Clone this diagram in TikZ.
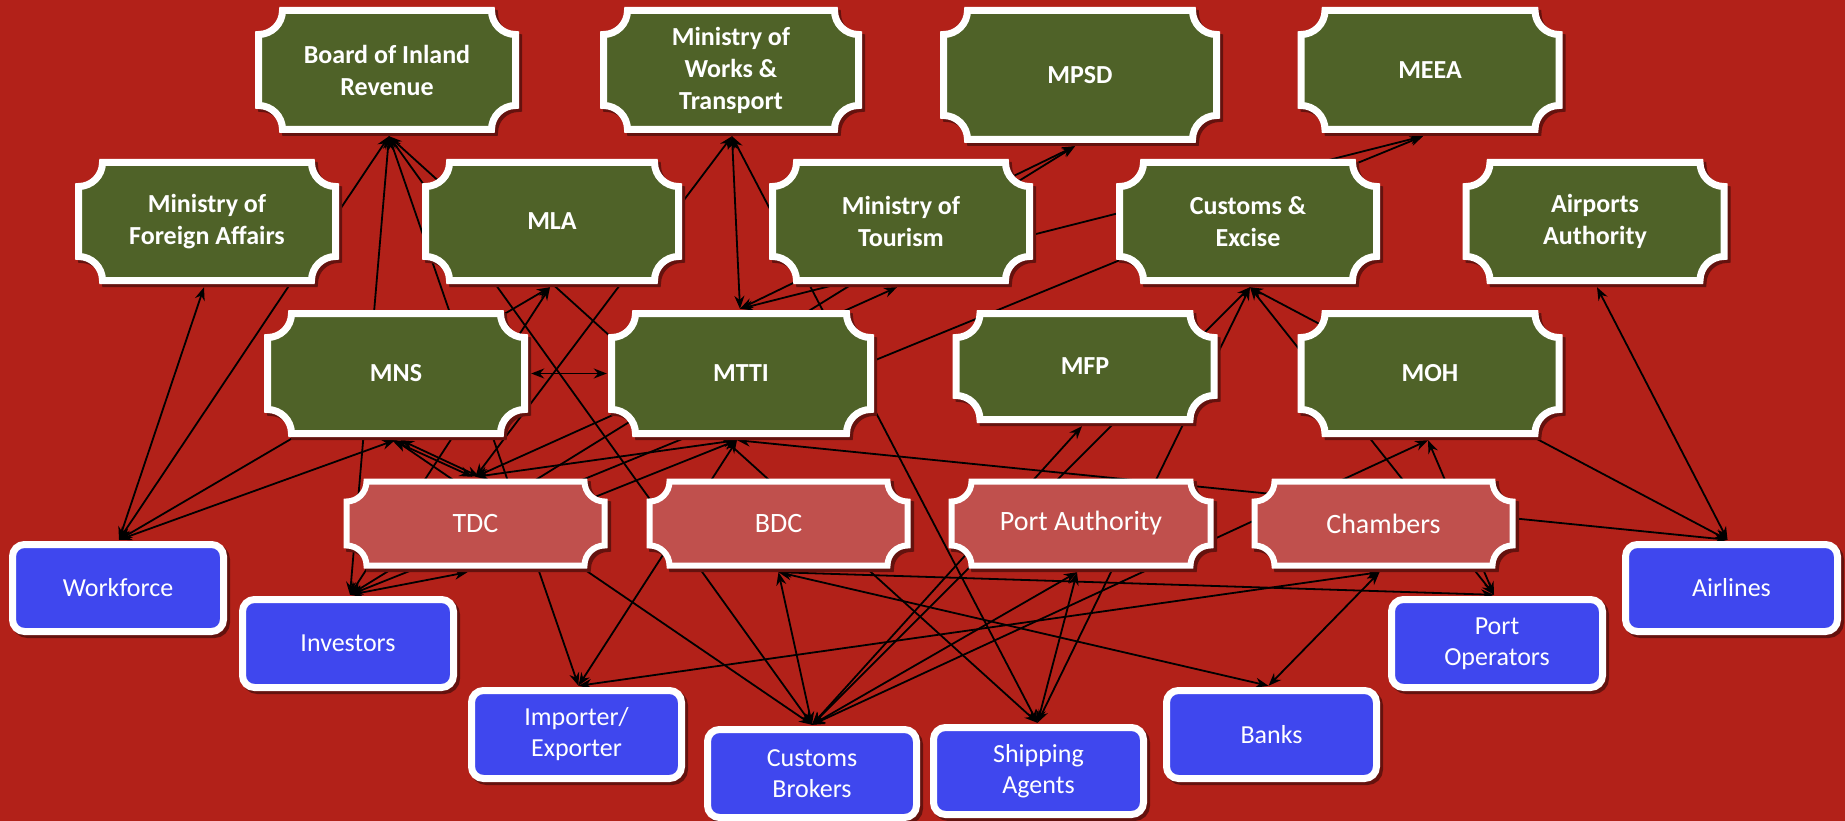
\documentclass[tikz,border=0pt]{standalone}
\usepackage{fontspec}
\setmainfont{Carlito}
\usetikzlibrary{arrows.meta,calc}
\definecolor{bgred}{RGB}{178,33,25}
\definecolor{boxgreen}{RGB}{79,98,40}
\definecolor{boxpink}{RGB}{192,80,77}
\definecolor{boxblue}{RGB}{63,71,238}
\definecolor{shadowc}{RGB}{100,18,14}
\pgfdeclarelayer{bg}
\pgfdeclarelayer{edges}
\pgfsetlayers{bg,edges,main}
\newcommand\plaquepath[5]{%
({#1-#3+#5},{#2-#4}) -- ({#1+#3-#5},{#2-#4})
.. controls ({#1+#3-#5},{#2-#4+0.552*#5}) and ({#1+#3-0.552*#5},{#2-#4+#5}) .. ({#1+#3},{#2-#4+#5})
-- ({#1+#3},{#2+#4-#5})
.. controls ({#1+#3-0.552*#5},{#2+#4-#5}) and ({#1+#3-#5},{#2+#4-0.552*#5}) .. ({#1+#3-#5},{#2+#4})
-- ({#1-#3+#5},{#2+#4})
.. controls ({#1-#3+#5},{#2+#4-0.552*#5}) and ({#1-#3+0.552*#5},{#2+#4-#5}) .. ({#1-#3},{#2+#4-#5})
-- ({#1-#3},{#2-#4+#5})
.. controls ({#1-#3+0.552*#5},{#2-#4+#5}) and ({#1-#3+#5},{#2-#4+0.552*#5}) .. ({#1-#3+#5},{#2-#4})
-- cycle}
\newcommand\plaque[9]{%
  \pgfmathsetmacro\plqa{#4/2-3.5}%
  \pgfmathsetmacro\plqb{#5/2-3.5}%
  \filldraw[plaqueshadow] \plaquepath{#2+3}{#3+3}{\plqa}{\plqb}{#6};
  \filldraw[#7] \plaquepath{#2}{#3}{\plqa}{\plqb}{#6};
  \node[#8, minimum width=#4pt, minimum height=#5pt] (#1) at (#2,#3) {#9};
}
\newcommand\bluebox[6]{%
  \draw[blueshadow] ({#2-#4/2+6.5},{#3-#5/2+6.5}) rectangle ({#2+#4/2-0.5},{#3+#5/2-0.5});
  \draw[blueshape] ({#2-#4/2+3.5},{#3-#5/2+3.5}) rectangle ({#2+#4/2-3.5},{#3+#5/2-3.5});
  \node[bluetext, minimum width=#4pt, minimum height=#5pt] (#1) at (#2,#3) {#6};
}
\tikzset{
  plaqueshadow/.style={fill=shadowc, draw=shadowc, line width=7pt},
  greenshape/.style={fill=boxgreen, draw=white, line width=7pt},
  pinkshape/.style={fill=boxpink, draw=white, line width=6pt},
  blueshadow/.style={fill=shadowc, draw=shadowc, line width=7pt, rounded corners=12pt},
  blueshape/.style={fill=boxblue, draw=white, line width=7pt, rounded corners=12pt},
  boxtext/.style={inner sep=0pt, align=center, text=white},
  greentext/.style={boxtext, font=\bfseries\fontsize{26}{32}\selectfont},
  pinktext/.style={boxtext, font=\fontsize{28}{34}\selectfont},
  bluetext/.style={boxtext, font=\fontsize{26}{31}\selectfont},
  link/.style={draw=black, line width=1.8pt, <->, >={Stealth[length=13pt,width=10pt]}},
}
\begin{document}
\begin{tikzpicture}[x=1pt,y=-1pt]
\useasboundingbox (0,0) rectangle (1845,821);
\begin{pgfonlayer}{bg}
\fill[bgred] (0,0) rectangle (1845,821);
\end{pgfonlayer}
% green plaques
\plaque{bir}{387}{70}{264}{126}{24}{greenshape}{greentext}{Board of Inland\\Revenue}
\plaque{mwt}{731}{70}{262}{126}{24}{greenshape}{greentext}{Ministry of\\Works \&\\Transport}
\plaque{mpsd}{1080}{75}{280}{136}{24}{greenshape}{greentext}{MPSD}
\plaque{meea}{1430}{70}{265}{126}{24}{greenshape}{greentext}{MEEA}
\plaque{mfa}{207}{221.5}{264}{125}{24}{greenshape}{greentext}{Ministry of\\Foreign Affairs}
\plaque{mla}{552}{221.5}{260}{125}{24}{greenshape}{greentext}{MLA}
\plaque{mot}{901}{221.5}{264}{125}{24}{greenshape}{greentext}{Ministry of\\Tourism}
\plaque{ce}{1248}{221.5}{264}{125}{24}{greenshape}{greentext}{Customs \&\\Excise}
\plaque{aa}{1595}{221.5}{265}{125}{24}{greenshape}{greentext}{Airports\\Authority}
\plaque{mns}{396}{373.5}{264}{127}{24}{greenshape}{greentext}{MNS}
\plaque{mtti}{741}{373.5}{266}{127}{24}{greenshape}{greentext}{MTTI}
\plaque{mfp}{1085}{366.5}{265}{113}{24}{greenshape}{greentext}{MFP}
\plaque{moh}{1430}{373.5}{265}{127}{24}{greenshape}{greentext}{MOH}
% pink plaques
\plaque{tdc}{475.5}{523.5}{265}{91}{20}{pinkshape}{pinktext}{TDC}
\plaque{bdc}{778.5}{523.5}{265}{91}{20}{pinkshape}{pinktext}{BDC}
\plaque{pa}{1081}{523.5}{266}{91}{20}{pinkshape}{pinktext}{Port Authority}
\plaque{ch}{1383.5}{523.5}{265}{91}{20}{pinkshape}{pinktext}{Chambers}
% blue boxes
\bluebox{wf}{118}{588}{218}{94}{Workforce}
\bluebox{inv}{348}{643.5}{218}{95}{Investors}
\bluebox{ie}{576.5}{734.5}{217}{95}{Importer/\\Exporter}
\bluebox{cb}{812}{773.5}{216}{95}{Customs\\Brokers}
\bluebox{sa}{1038.5}{771}{217}{94}{Shipping\\Agents}
\bluebox{banks}{1271.5}{734.5}{217}{95}{Banks}
\bluebox{po}{1497}{643.5}{218}{95}{Port\\Operators}
\bluebox{air}{1731.5}{588}{219}{94}{Airlines}
% connection points
\coordinate (hBIR) at ([xshift=2pt,yshift=-3pt]bir.south);
\coordinate (hMWT) at ([xshift=1pt,yshift=-3pt]mwt.south);
\coordinate (hMPSD) at ([xshift=-5pt,yshift=-3pt]mpsd.south);
\coordinate (hMEEA) at ([xshift=-7pt,yshift=-3pt]meea.south);
\coordinate (hMFA) at ([xshift=-3pt,yshift=-3pt]mfa.south);
\coordinate (hMLA) at ([xshift=-2pt,yshift=-3pt]mla.south);
\coordinate (hMOT) at ([xshift=-4pt,yshift=-3pt]mot.south);
\coordinate (hCE) at ([xshift=2pt,yshift=-3pt]ce.south);
\coordinate (hAA) at ([xshift=2pt,yshift=-3pt]aa.south);
\coordinate (hMNS) at ([xshift=-1pt,yshift=-3pt]mns.south);
\coordinate (hMTTIb) at ([xshift=-4pt,yshift=-3pt]mtti.south);
\coordinate (hMTTIt) at ([xshift=-1pt,yshift=1pt]mtti.north);
\coordinate (hMFP) at ([xshift=-3pt,yshift=-3pt]mfp.south);
\coordinate (hMOH) at ([xshift=-2pt,yshift=-3pt]moh.south);
\coordinate (hTDCt) at ([yshift=1pt]tdc.north);
\coordinate (hTDCb) at ([xshift=-8pt,yshift=-3pt]tdc.south);
\coordinate (hBDC) at ([yshift=-3pt]bdc.south);
\coordinate (hPA) at ([xshift=-4pt,yshift=-3pt]pa.south);
\coordinate (hCH) at ([xshift=-4pt,yshift=-3pt]ch.south);
\coordinate (hWF) at ([xshift=1pt,yshift=1pt]wf.north);
\coordinate (hINV) at ([xshift=2pt,yshift=1pt]inv.north);
\coordinate (hIE) at ([xshift=2pt,yshift=1pt]ie.north);
\coordinate (hCB) at ([yshift=1pt]cb.north);
\coordinate (hSA) at ([xshift=-1pt,yshift=1pt]sa.north);
\coordinate (hBANKS) at ([xshift=-3pt,yshift=1pt]banks.north);
\coordinate (hPO) at ([xshift=-3pt,yshift=1pt]po.north);
\coordinate (hAIR) at ([xshift=-4pt,yshift=1pt]air.north);
\coordinate (hMNSe) at ([xshift=3pt]mns.east);
\coordinate (hMTTIw) at ([xshift=-1pt]mtti.west);
\begin{pgfonlayer}{edges}
\draw[link] (hWF) -- (hBIR);
\draw[link] (hWF) -- (hMFA);
\draw[link] (hWF) -- (hMLA);
\draw[link] (hWF) -- (hMNS);
\draw[link] (hINV) -- (hBIR);
\draw[link] (hINV) -- (hMLA);
\draw[link] (hINV) -- (hMPSD);
\draw[link] (hINV) -- (hMTTIb);
\draw[link] (hINV) -- (hTDCb);
\draw[link] (hIE) -- (hBIR);
\draw[link] (hIE) -- (hMTTIb);
\draw[link] (hIE) -- (hCH);
\draw[link] (hCB) -- (hBIR);
\draw[link] (hCB) -- (hMNS);
\draw[link] (hCB) -- (hBDC);
\draw[link] (hCB) -- (hCE);
\draw[link] (hCB) -- (hMFP);
\draw[link] (hCB) -- (hPA);
\draw[link] (hCB) -- (hMOH);
\draw[link] (hSA) -- (hBIR);
\draw[link] (hSA) -- (hMWT);
\draw[link] (hSA) -- (hCE);
\draw[link] (hSA) -- (hPA);
\draw[link] (hTDCt) -- (hMWT);
\draw[link] ([xshift=-3pt]hTDCt) -- ([xshift=-3pt]hMNS);
\draw[link] ([xshift=4pt]hTDCt) -- ([xshift=6pt]hMNS);
\draw[link] (hTDCt) -- (hMOT);
\draw[link] (hTDCt) -- (hMTTIb);
\draw[link] (tdc.center) -- (hMEEA);
\draw[link] (hMTTIt) -- (hMWT);
\draw[link] (hMTTIt) -- (hMPSD);
\draw[link] (hMTTIt) -- (hMEEA);
\draw[link] (hMNSe) -- (hMTTIw);
\draw[link] (hMTTIb) -- (hAIR);
\draw[link] (hBDC) -- (hBANKS);
\draw[link] (hBDC) -- (hPO);
\draw[link] (hBANKS) -- (hCH);
\draw[link] (hPO) -- (hCE);
\draw[link] (hPO) -- (hMOH);
\draw[link] (hAIR) -- (hCE);
\draw[link] (hAIR) -- (hAA);
\end{pgfonlayer}
\end{tikzpicture}
\end{document}
